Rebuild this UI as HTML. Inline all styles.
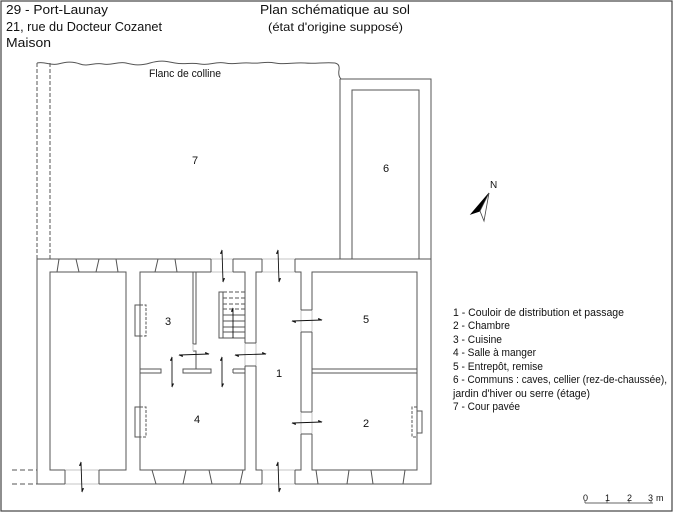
<!DOCTYPE html>
<html><head><meta charset="utf-8"><style>
html,body{margin:0;padding:0;background:#fff}
svg{display:block}
text{font-family:"Liberation Sans",sans-serif;fill:#111}
</style></head><body>
<svg width="673" height="512" viewBox="0 0 673 512" xmlns="http://www.w3.org/2000/svg">
<defs>
<marker id="a" viewBox="0 0 6 6" refX="5" refY="3" markerWidth="5" markerHeight="5" orient="auto-start-reverse"><path d="M0,0 L6,3 L0,3 Z" fill="#111"/></marker>
</defs>
<rect x="1" y="1" width="671" height="510" fill="none" stroke="#444" stroke-width="1.2"/>
<text x="6" y="14" font-size="13" textLength="102" lengthAdjust="spacingAndGlyphs">29 - Port-Launay</text>
<text x="6" y="31" font-size="13" textLength="156" lengthAdjust="spacingAndGlyphs">21, rue du Docteur Cozanet</text>
<text x="6" y="47" font-size="13" textLength="45" lengthAdjust="spacingAndGlyphs">Maison</text>
<text x="260" y="14" font-size="13" textLength="150" lengthAdjust="spacingAndGlyphs">Plan schématique au sol</text>
<text x="268" y="31" font-size="12" textLength="135" lengthAdjust="spacingAndGlyphs">(état d'origine supposé)</text>

<g fill="none" stroke="#555" stroke-width="1">
<path d="M37,63 C45,61 50,66 58,64 S72,61 80,64 S95,62 103,64 S118,61 126,63 S140,66 150,63 S165,61 175,63 S190,62 200,64 S215,61 225,63 S240,62 250,63 S265,61 275,63 S295,62 305,63 S325,62 335,63 Q340,64 339,70 Q338,76 341,79"/>
<path d="M37,63 V259 M50,63 V259" stroke-dasharray="4,2"/>
<path d="M340,79 H431 V259 M340,79 V259 M352,259 V90 H419 V259"/>
<rect x="37" y="259" width="394" height="225"/>
<rect x="50" y="272" width="76" height="198"/>
<rect x="140" y="272" width="105" height="198"/>
<rect x="256" y="272" width="45" height="198"/>
<rect x="312" y="272" width="105" height="198"/>
<path d="M312,369 H417 M312,373 H417"/>
<path d="M140,369 H161 V373 H140 M183,369 H211 V373 H183 Z M233,369 H245 M233,373 H245 M233,369 V373"/>
<path d="M193,272 V344 H196 V272 M193,351 H196 V369"/>
</g>
<!-- erase gap segments -->
<g stroke="#fff" stroke-width="2"><path d="M212,259 H232 M212,272 H232 M263,259 H294 M263,272 H294 M66,470 H98 M66,484 H98 M263,470 H294 M263,484 H294 M245,344 V365 M256,344 V365 M301,311 V331 M312,311 V331 M301,413 V433 M312,413 V433 M193,345 V350"/></g>
<g fill="none" stroke="#555" stroke-width="1">
<g stroke="#c4c4c4"><path d="M211,259 H233 M211,272 H233 M262,259 H295 M262,272 H295 M65,470 H99 M65,484 H99 M262,470 H295 M262,484 H295 M245,343 V366 M256,343 V366 M301,310 V332 M312,310 V332 M301,412 V434 M312,412 V434 M193,344 V351"/></g>
<path d="M211,259 V272 M233,259 V272 M262,259 V272 M295,259 V272 M65,470 V484 M99,470 V484 M262,470 V484 M295,470 V484 M245,343 H256 M245,366 H256 M301,310 H312 M301,332 H312 M301,412 H312 M301,434 H312"/>
<path d="M57,272 L59,259 M79,272 L76,259 M96,272 L99,259 M118,272 L116,259 M155,272 L158,259 M177,272 L175,259 M152,470 L156,484 M186,470 L183,484 M209,470 L212,484 M243,470 L240,484 M316,470 L318,484 M349,470 L347,484 M371,470 L373,484 M405,470 L403,484"/>
<rect x="135" y="305" width="5" height="31"/>
<path d="M140,305 H146 V336 H140" stroke-dasharray="3,1.5"/>
<rect x="135" y="407" width="5" height="30"/>
<path d="M140,407 H146 V437 H140" stroke-dasharray="3,1.5"/>
<rect x="417" y="411" width="5" height="22"/>
<path d="M417,407 H412 V437 H417" stroke-dasharray="3,1.5"/>
<path d="M12,470 H37 M12,484 H37" stroke-dasharray="5,3"/>
<rect x="219" y="292" width="4" height="46"/>
<path d="M223,292 H245 M223,298 H245 M223,304 H245 M223,309 H245" stroke-dasharray="4,2"/>
<path d="M223,315 H245 M223,321 H245 M223,327 H245 M223,332 H245 M223,338 H245"/>
<path d="M585,503 H653 M585,501 V503 M607,501 V503 M629,501 V503 M651,501 V503" stroke="#666"/>
</g>

<g stroke="#111" stroke-width="0.9" marker-start="url(#a)" marker-end="url(#a)">
<line x1="222" y1="250" x2="223" y2="282"/>
<line x1="278" y1="250" x2="279" y2="282"/>
<line x1="292" y1="321" x2="322" y2="320"/>
<line x1="292" y1="423" x2="322" y2="422"/>
<line x1="179" y1="355" x2="209" y2="354"/>
<line x1="235" y1="355" x2="266" y2="354"/>
<line x1="172" y1="357" x2="172" y2="387"/>
<line x1="222" y1="357" x2="222" y2="387"/>
<line x1="81" y1="462" x2="82" y2="492"/>
<line x1="278" y1="462" x2="279" y2="492"/>
</g>
<line x1="233" y1="338" x2="233" y2="308" stroke="#111" stroke-width="0.9" marker-end="url(#a)"/>

<path d="M489,193 L471,214 L480,211 Z" fill="#000" stroke="#000" stroke-width="0.8"/>
<path d="M489,193 L480,211 L484,221 Z" fill="#fff" stroke="#444" stroke-width="0.8"/>
<text x="490" y="188" font-size="10">N</text>

<text x="149" y="77" font-size="11" textLength="72" lengthAdjust="spacingAndGlyphs">Flanc de colline</text>
<text x="192" y="164" font-size="11">7</text>
<text x="383" y="172" font-size="11">6</text>
<text x="165" y="325" font-size="11">3</text>
<text x="363" y="323" font-size="11">5</text>
<text x="276" y="377" font-size="11">1</text>
<text x="194" y="423" font-size="11">4</text>
<text x="363" y="427" font-size="11">2</text>

<g font-size="11">
<text x="453" y="316" textLength="171" lengthAdjust="spacingAndGlyphs">1 - Couloir de distribution et passage</text>
<text x="453" y="329" textLength="57" lengthAdjust="spacingAndGlyphs">2 - Chambre</text>
<text x="453" y="343" textLength="49" lengthAdjust="spacingAndGlyphs">3 - Cuisine</text>
<text x="453" y="356" textLength="83" lengthAdjust="spacingAndGlyphs">4 - Salle à manger</text>
<text x="453" y="370" textLength="90" lengthAdjust="spacingAndGlyphs">5 - Entrepôt, remise</text>
<text x="453" y="383" textLength="214" lengthAdjust="spacingAndGlyphs">6 - Communs : caves, cellier (rez-de-chaussée),</text>
<text x="453" y="397" textLength="137" lengthAdjust="spacingAndGlyphs">jardin d'hiver ou serre (étage)</text>
<text x="453" y="410" textLength="67" lengthAdjust="spacingAndGlyphs">7 - Cour pavée</text>
</g>
<g font-size="9">
<text x="583" y="501">0</text><text x="605" y="501">1</text><text x="627" y="501">2</text><text x="648" y="501">3</text><text x="656" y="501">m</text>
</g>
</svg>
</body></html>
